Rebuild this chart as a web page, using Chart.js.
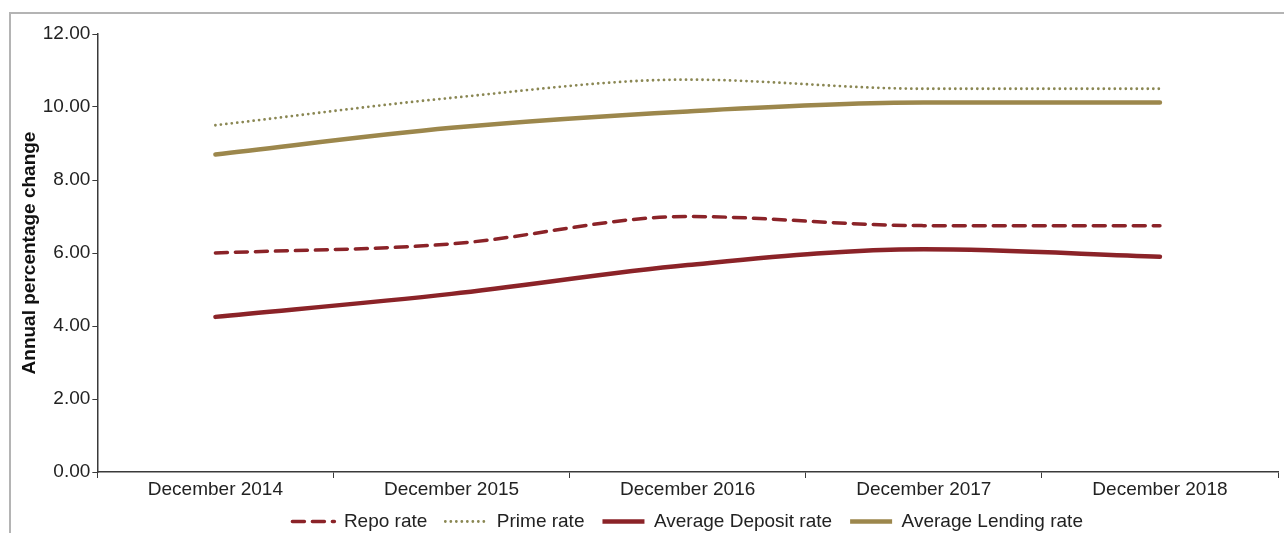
<!DOCTYPE html>
<html>
<head>
<meta charset="utf-8">
<script src="https://cdn.jsdelivr.net/npm/chart.js@4/dist/chart.umd.min.js"></script>
<style>
  html, body { margin: 0; padding: 0; background: #fff; }
  .frame {
    position: absolute; left: 9px; top: 12px; width: 1275px; height: 521px;
    border-left: 2px solid #b4b4b4; border-top: 2px solid #b4b4b4;
  }
  .wrap { position: absolute; left: 0; top: 0; width: 1284px; height: 533px; }
</style>
</head>
<body>
<div class="frame"></div>
<div class="wrap"><canvas id="rates"></canvas></div>
<script>
const labels = ['December 2014', 'December 2015', 'December 2016', 'December 2017', 'December 2018'];
const repoRate = [6.00, 6.25, 7.00, 6.75, 6.75];
const primeRate = [9.50, 10.25, 10.75, 10.50, 10.50];
const depositRate = [4.25, 4.88, 5.67, 6.10, 5.90];
const lendingRate = [8.70, 9.43, 9.88, 10.12, 10.12];

const red = '#8b2328';
const gold = '#9c874c';
const olive = '#8a8753';
const axisColor = '#3a3a3a';
const fontName = 'Liberation Sans';

const data = {
    labels: labels,
    datasets: [
        {
            label: 'Repo rate',
            data: repoRate,
            borderColor: red,
            backgroundColor: red,
            borderWidth: 3.5,
            borderDash: [12, 8],
            borderCapStyle: 'round'
        },
        {
            label: 'Prime rate',
            data: primeRate,
            borderColor: olive,
            backgroundColor: olive,
            borderWidth: 2.8,
            borderDash: [0, 5.5],
            borderCapStyle: 'round'
        },
        {
            label: 'Average Deposit rate',
            data: depositRate,
            borderColor: red,
            backgroundColor: red,
            borderWidth: 4.5,
            borderCapStyle: 'round'
        },
        {
            label: 'Average Lending rate',
            data: lendingRate,
            borderColor: gold,
            backgroundColor: gold,
            borderWidth: 4.5,
            borderCapStyle: 'round'
        }
    ]
};

// legend samples: copy the dash pattern and width of each dataset
function legendLabels(chart) {
    const items = Chart.defaults.plugins.legend.labels.generateLabels(chart);
    items.forEach(function (item) {
        const ds = chart.data.datasets[item.datasetIndex];
        item.lineDash = ds.borderDash || [];
        item.lineWidth = ds.borderWidth;
        item.strokeStyle = ds.borderColor;
        item.lineCap = ds.borderDash ? 'round' : 'butt';
        item.pointStyle = 'line';
    });
    return items;
}

// pull the legend row up a bit, it sits close under the axis labels
const legendNudge = {
    id: 'legendNudge',
    afterLayout(chart) {
        chart.legend.top -= 7;
        chart.legend.bottom -= 7;
    }
};

const config = {
    type: 'line',
    data: data,
    plugins: [legendNudge],
    options: {
        responsive: true,
        maintainAspectRatio: false,
        animation: false,
        layout: {
            padding: { left: 18, right: 6, top: 34, bottom: -15 }
        },
        elements: {
            point: { radius: 0 },
            line: { cubicInterpolationMode: 'monotone' }
        },
        plugins: {
            tooltip: { enabled: false },
            legend: {
                position: 'bottom',
                fullSize: false,
                labels: {
                    color: '#222',
                    usePointStyle: true,
                    pointStyleWidth: 42,
                    boxHeight: 10,
                    padding: 18,
                    generateLabels: legendLabels,
                    font: { family: fontName, size: 19 }
                }
            }
        },
        scales: {
            x: {
                offset: true,
                border: { display: true, color: axisColor, width: 1.5 },
                grid: {
                    offset: true,
                    drawOnChartArea: false,
                    drawTicks: true,
                    tickLength: 6,
                    color: axisColor
                },
                ticks: {
                    color: '#222',
                    maxRotation: 0,
                    padding: 2,
                    font: { family: fontName, size: 19, lineHeight: 1 }
                }
            },
            y: {
                min: 0,
                max: 12,
                border: { display: true, color: axisColor, width: 1.5 },
                grid: {
                    drawOnChartArea: false,
                    drawTicks: true,
                    tickLength: 5,
                    color: axisColor
                },
                ticks: {
                    stepSize: 2,
                    color: '#222',
                    padding: 2,
                    font: { family: fontName, size: 19 },
                    callback: function (v) { return v.toFixed(2); }
                },
                title: {
                    display: true,
                    text: 'Annual percentage change',
                    color: '#111',
                    padding: 0,
                    font: { family: fontName, size: 19, weight: 'bold' }
                }
            }
        }
    }
};

const myChart = new Chart(document.getElementById('rates'), config);
</script>
</body>
</html>
